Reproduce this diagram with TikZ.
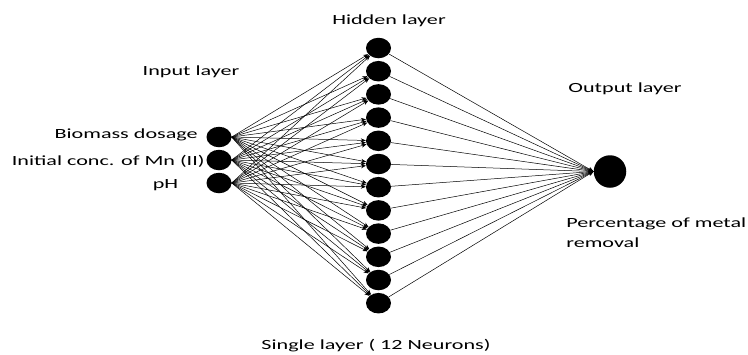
\documentclass[tikz,border=0pt]{standalone}
\usepackage{fontspec}
\setmainfont{Carlito}
\usetikzlibrary{arrows.meta,shapes.geometric}
\begin{document}
\begin{tikzpicture}[x=1pt,y=-1pt,
  neuron/.style={ellipse,fill=black,inner sep=0pt,minimum width=25pt,minimum height=20.5pt},
  conn/.style={-{Stealth[length=5pt,width=4pt]},line width=0.5pt},
  lbl/.style={font=\fontsize{14}{16}\selectfont,inner sep=0pt,xscale=1.58}]
\useasboundingbox (0,0) rectangle (748,354);
% input neurons
\node[neuron] (i1) at (219,137) {};
\node[neuron] (i2) at (219,160) {};
\node[neuron] (i3) at (219,183) {};
% hidden neurons
\foreach \k in {1,...,12} {
  \node[neuron] (h\k) at (378.5,{48+(\k-1)*23.2}) {};
}
% output neuron
\node[circle,fill=black,inner sep=0pt,minimum size=32.5pt] (o) at (610,171.5) {};
% connections
\foreach \i in {1,2,3} {
  \foreach \k in {1,...,12} {
    \draw[conn] (i\i.east) -- (h\k);
  }
}
\foreach \k in {1,...,12} {
  \draw[conn] (h\k) -- (o.west);
}
% labels
\node[lbl] (lh) at (389,21) {Hidden layer};
\node[lbl] (li) at (191,72) {Input layer};
\node[lbl] (lo) at (625,89) {Output layer};
\node[lbl,anchor=east] (l1) at (198,135) {Biomass dosage};
\node[lbl,anchor=east] (l2) at (205,161) {Initial conc. of Mn (II)};
\node[lbl] (l3) at (165.5,185) {pH};
\node[lbl,anchor=west] (lp1) at (566,224) {Percentage of metal};
\node[lbl,anchor=west] (lp2) at (566,243) {removal};
\node[lbl] (ls) at (376,346) {Single layer ( 12 Neurons)};
\end{tikzpicture}
\end{document}
